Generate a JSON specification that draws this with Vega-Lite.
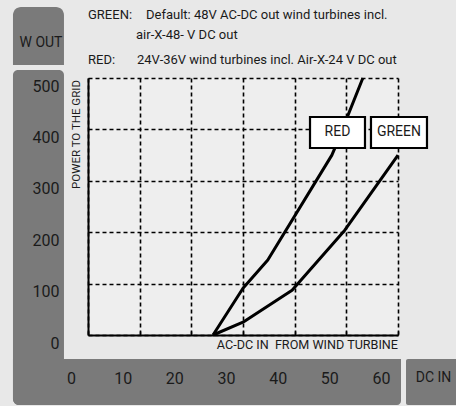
{
  "$schema": "https://vega.github.io/schema/vega-lite/v6.json",
  "width": 310,
  "height": 257,
  "autosize": {"type": "none"},
  "padding": {"left": 88, "top": 78, "right": 58, "bottom": 71},
  "background": "#e8e8e8",
  "config": {
    "view": {"stroke": null, "fill": "#eeeeee"},
    "font": "Roboto",
    "text": {"font": "Roboto", "color": "#1a1a1a", "baseline": "middle"}
  },
  "resolve": {"axis": {"x": "independent", "y": "independent"}},
  "datasets": {
    "curves": [
      {"series": "RED", "dc": 24.2, "w": 0},
      {"series": "RED", "dc": 30.0, "w": 91},
      {"series": "RED", "dc": 34.8, "w": 146},
      {"series": "RED", "dc": 47.2, "w": 350},
      {"series": "RED", "dc": 47.8, "w": 364},
      {"series": "RED", "dc": 53.2, "w": 500},
      {"series": "GREEN", "dc": 24.2, "w": 0},
      {"series": "GREEN", "dc": 30.0, "w": 25},
      {"series": "GREEN", "dc": 39.5, "w": 87},
      {"series": "GREEN", "dc": 49.7, "w": 204},
      {"series": "GREEN", "dc": 60.0, "w": 350}
    ]
  },
  "layer": [
    {
      "data": {"values": [{}]},
      "mark": {"type": "rect", "color": "#7a7a7a", "cornerRadiusTopLeft": 8, "cornerRadiusTopRight": 8},
      "encoding": {
        "x": {"datum": -14.52, "type": "quantitative", "axis": null},
        "x2": {"datum": -4.65},
        "y": {"datum": 638.1, "type": "quantitative", "axis": null},
        "y2": {"datum": 525.3}
      }
    },
    {
      "data": {"values": [{}]},
      "mark": {"type": "rect", "color": "#7a7a7a", "cornerRadiusTopLeft": 5, "cornerRadiusTopRight": 5, "cornerRadiusBottomLeft": 6},
      "encoding": {
        "x": {"datum": -14.52, "type": "quantitative", "axis": null},
        "x2": {"datum": -4.65},
        "y": {"datum": 515.6, "type": "quantitative", "axis": null},
        "y2": {"datum": -136.2}
      }
    },
    {
      "data": {"values": [{}]},
      "mark": {"type": "rect", "color": "#7a7a7a", "cornerRadiusBottomLeft": 6, "cornerRadiusBottomRight": 4},
      "encoding": {
        "x": {"datum": -14.52, "type": "quantitative", "axis": null},
        "x2": {"datum": 60.58},
        "y": {"datum": -46.7, "type": "quantitative", "axis": null},
        "y2": {"datum": -136.2}
      }
    },
    {
      "data": {"values": [{}]},
      "mark": {"type": "rect", "color": "#7a7a7a", "cornerRadius": 2},
      "encoding": {
        "x": {"datum": 61.55, "type": "quantitative", "axis": null},
        "x2": {"datum": 72},
        "y": {"datum": -46.7, "type": "quantitative", "axis": null},
        "y2": {"datum": -136.2}
      }
    },
    {
      "data": {"name": "curves"},
      "mark": {"type": "line", "color": "black", "strokeWidth": 3, "strokeJoin": "round", "strokeCap": "butt"},
      "encoding": {
        "x": {
          "field": "dc", "type": "quantitative",
          "scale": {"domain": [0, 60], "nice": false, "zero": false},
          "axis": {"orient": "bottom", "values": [0, 10, 20, 30, 40, 50, 60], "grid": true, "gridColor": "black", "gridDash": [4, 3], "gridWidth": 1.6, "gridOpacity": 1, "domain": false, "ticks": false, "labels": false, "title": null, "zindex": 0}
        },
        "y": {
          "field": "w", "type": "quantitative",
          "scale": {"domain": [0, 500], "nice": false, "zero": false},
          "axis": {"orient": "left", "values": [0, 100, 200, 300, 400, 500], "grid": true, "gridColor": "black", "gridDash": [4, 3], "gridWidth": 1.6, "gridOpacity": 1, "domain": false, "ticks": false, "labels": false, "title": null, "zindex": 0}
        },
        "detail": {"field": "series"}
      }
    },
    {
      "data": {"values": [{}]},
      "mark": {"type": "rect", "fill": "white", "stroke": "black", "strokeWidth": 2.2},
      "encoding": {
        "x": {
          "datum": 42.97, "type": "quantitative",
          "axis": {"orient": "bottom", "values": [0, 10, 20, 30, 40, 50, 60], "grid": false, "domain": true, "domainColor": "black", "domainWidth": 2, "ticks": true, "tickColor": "black", "tickWidth": 1.5, "tickSize": -4, "labelOffset": -17, "labelPadding": 47, "labelBaseline": "middle", "labelFlush": false, "labelOverlap": false, "labelFontSize": 16, "labelColor": "#1a1a1a", "labelFont": "Roboto", "title": null, "zindex": 1}
        },
        "x2": {"datum": 53.61},
        "y": {
          "datum": 424.1, "type": "quantitative",
          "axis": {"orient": "left", "values": [0, 100, 200, 300, 400, 500], "grid": false, "domain": true, "domainColor": "black", "domainWidth": 2, "ticks": false, "labelPadding": 29, "labelOffset": 8, "labelBaseline": "middle", "labelFlush": false, "labelOverlap": false, "labelFontSize": 16, "labelColor": "#1a1a1a", "labelFont": "Roboto", "title": null, "zindex": 1}
        },
        "y2": {"datum": 363.8}
      }
    },
    {
      "data": {"values": [{}]},
      "mark": {"type": "rect", "fill": "white", "stroke": "black", "strokeWidth": 2.2},
      "encoding": {
        "x": {"datum": 54.77, "type": "quantitative", "axis": null},
        "x2": {"datum": 65.61},
        "y": {"datum": 424.1, "type": "quantitative", "axis": null},
        "y2": {"datum": 363.8}
      }
    },
    {
      "data": {"values": [{}]},
      "mark": {"type": "text", "text": "RED", "fontSize": 14, "align": "center"},
      "encoding": {
        "x": {"datum": 48.29, "type": "quantitative", "axis": null},
        "y": {"datum": 394, "type": "quantitative", "axis": null}
      }
    },
    {
      "data": {"values": [{}]},
      "mark": {"type": "text", "text": "GREEN", "fontSize": 14, "align": "center"},
      "encoding": {
        "x": {"datum": 60.19, "type": "quantitative", "axis": null},
        "y": {"datum": 394, "type": "quantitative", "axis": null}
      }
    },
    {
      "data": {"values": [{}]},
      "mark": {"type": "text", "text": "W OUT", "fontSize": 14, "align": "center"},
      "encoding": {
        "x": {"datum": -9.1, "type": "quantitative", "axis": null},
        "y": {"datum": 568.1, "type": "quantitative", "axis": null}
      }
    },
    {
      "data": {"values": [{}]},
      "mark": {"type": "text", "text": "DC IN", "fontSize": 14, "align": "center"},
      "encoding": {
        "x": {"datum": 66.87, "type": "quantitative", "axis": null},
        "y": {"datum": -83.7, "type": "quantitative", "axis": null}
      }
    },
    {
      "data": {"values": [{}]},
      "mark": {"type": "text", "text": "POWER TO THE GRID", "fontSize": 11.5, "align": "right", "angle": 270},
      "encoding": {
        "x": {"datum": -2.13, "type": "quantitative", "axis": null},
        "y": {"datum": 496, "type": "quantitative", "axis": null}
      }
    },
    {
      "data": {"values": [{}]},
      "mark": {"type": "text", "text": "AC-DC IN\u00a0 FROM WIND TURBINE", "fontSize": 12.6, "align": "right"},
      "encoding": {
        "x": {"datum": 60, "type": "quantitative", "axis": null},
        "y": {"datum": -19.5, "type": "quantitative", "axis": null}
      }
    },
    {
      "data": {"values": [{}]},
      "mark": {"type": "text", "text": "GREEN:", "fontSize": 13, "align": "left"},
      "encoding": {
        "x": {"datum": 0, "type": "quantitative", "axis": null},
        "y": {"datum": 622.6, "type": "quantitative", "axis": null}
      }
    },
    {
      "data": {"values": [{}]},
      "mark": {"type": "text", "text": "Default: 48V AC-DC out wind turbines incl.", "fontSize": 13, "align": "left"},
      "encoding": {
        "x": {"datum": 11.23, "type": "quantitative", "axis": null},
        "y": {"datum": 622.6, "type": "quantitative", "axis": null}
      }
    },
    {
      "data": {"values": [{}]},
      "mark": {"type": "text", "text": "air-X-48- V DC out", "fontSize": 13, "align": "left"},
      "encoding": {
        "x": {"datum": 9.29, "type": "quantitative", "axis": null},
        "y": {"datum": 583.7, "type": "quantitative", "axis": null}
      }
    },
    {
      "data": {"values": [{}]},
      "mark": {"type": "text", "text": "RED:", "fontSize": 13, "align": "left"},
      "encoding": {
        "x": {"datum": 0, "type": "quantitative", "axis": null},
        "y": {"datum": 535, "type": "quantitative", "axis": null}
      }
    },
    {
      "data": {"values": [{}]},
      "mark": {"type": "text", "text": "24V-36V wind turbines incl. Air-X-24 V DC out", "fontSize": 13, "align": "left"},
      "encoding": {
        "x": {"datum": 9.48, "type": "quantitative", "axis": null},
        "y": {"datum": 535, "type": "quantitative", "axis": null}
      }
    }
  ]
}
